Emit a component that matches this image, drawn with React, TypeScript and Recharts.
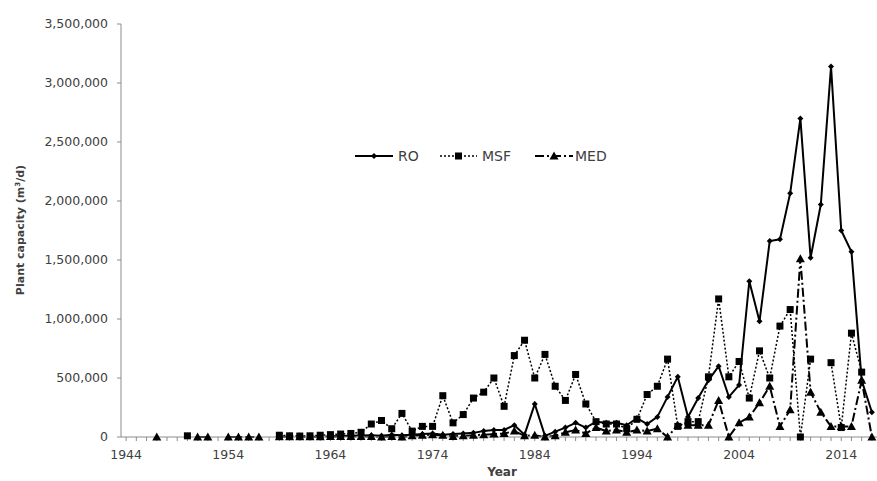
import { LineChart, Line, XAxis, YAxis, Legend, Label } from "recharts";

// categories: one per year, axis labels every ten years
const years = [
  1944, 1945, 1946, 1947, 1948, 1949, 1950, 1951, 1952, 1953,
  1954, 1955, 1956, 1957, 1958, 1959, 1960, 1961, 1962, 1963,
  1964, 1965, 1966, 1967, 1968, 1969, 1970, 1971, 1972, 1973,
  1974, 1975, 1976, 1977, 1978, 1979, 1980, 1981, 1982, 1983,
  1984, 1985, 1986, 1987, 1988, 1989, 1990, 1991, 1992, 1993,
  1994, 1995, 1996, 1997, 1998, 1999, 2000, 2001, 2002, 2003,
  2004, 2005, 2006, 2007, 2008, 2009, 2010, 2011, 2012, 2013,
  2014, 2015, 2016, 2017,
];
const labelYears = [1944, 1954, 1964, 1974, 1984, 1994, 2004, 2014];
const yTicks = [0, 500000, 1000000, 1500000, 2000000, 2500000, 3000000, 3500000];

// plant capacity (m3/d); null = no plants that year
const roCapacity = [
  null, null, null, null, null, null, null, null, null, null,
  null, null, null, null, null, null, null, null, null, null,
  5000, 8000, 10000, 12000, 15000, 10000, 20000, 15000, 20000, 25000,
  30000, 20000, 25000, 30000, 35000, 50000, 60000, 60000, 100000, 20000,
  280000, 10000, 45000, 80000, 120000, 80000, 130000, 120000, 120000, 100000,
  160000, 110000, 170000, 340000, 510000, 170000, 330000, 480000, 600000, 340000,
  440000, 1320000, 980000, 1660000, 1675000, 2065000, 2700000, 1520000, 1970000, 3140000,
  1750000, 1570000, 480000, 210000,
];
const msfCapacity = [
  null, null, null, null, null, null, 10000, null, null, null,
  null, null, null, null, null, 15000, 10000, 8000, 10000, 15000,
  20000, 25000, 30000, 40000, 110000, 140000, 70000, 200000, 50000, 90000,
  90000, 350000, 120000, 190000, 330000, 380000, 500000, 260000, 690000, 820000,
  500000, 700000, 430000, 310000, 530000, 280000, 130000, 110000, 110000, 70000,
  150000, 360000, 430000, 660000, 90000, 130000, 130000, 510000, 1170000, 510000,
  640000, 330000, 730000, 500000, 940000, 1080000, 0, 660000, null, 630000,
  80000, 880000, 550000, null,
];
const medCapacity = [
  null, null, null, 0, null, null, null, 0, 0, null,
  0, 0, 0, 0, null, 3000, 2000, 2000, 3000, 3000,
  5000, 5000, 5000, 5000, 5000, 0, 5000, 0, 10000, 15000,
  20000, 15000, 5000, 10000, 15000, 20000, 25000, 30000, 50000, 10000,
  15000, 0, 10000, 40000, 60000, 30000, 80000, 50000, 60000, 40000,
  60000, 50000, 70000, 0, 100000, 100000, 100000, 100000, 310000, 0,
  120000, 170000, 290000, 430000, 90000, 230000, 1510000, 380000, 210000, 90000,
  90000, 90000, 480000, 0,
];

const data = years.map((year, i) => ({
  year,
  RO: roCapacity[i],
  MSF: msfCapacity[i],
  MED: medCapacity[i],
}));

const FONT = '"DejaVu Sans", sans-serif';
const TEXT = "#404040";
const AXIS = "#8c8c8c";

const series = [
  { key: "RO", shape: "diamond", dash: undefined, width: 2 },
  { key: "MSF", shape: "square", dash: "2 2", width: 1.5 },
  { key: "MED", shape: "triangle", dash: "9 3 2 3", width: 2 },
];

function marker(shape: string, cx: number, cy: number, key?: string) {
  if (cx == null || cy == null || isNaN(cx) || isNaN(cy)) return <g key={key} />;
  if (shape === "diamond")
    return <path key={key} d={`M${cx},${cy - 3}L${cx + 3},${cy}L${cx},${cy + 3}L${cx - 3},${cy}Z`} fill="#000" />;
  if (shape === "square")
    return <rect key={key} x={cx - 3.5} y={cy - 3.5} width={7} height={7} fill="#000" />;
  return <path key={key} d={`M${cx},${cy - 4.5}L${cx + 4.5},${cy + 3.5}L${cx - 4.5},${cy + 3.5}Z`} fill="#000" />;
}

// legend sample positions (relative to the legend box)
const legendPos = [
  { line: [3, 41], text: 46 },
  { line: [88, 125], text: 130 },
  { line: [183, 221], text: 223 },
];

const LegendContent = () => (
  <svg width={270} height={22}>
    {series.map((s, i) => {
      const p = legendPos[i];
      const mid = (p.line[0] + p.line[1]) / 2;
      return (
        <g key={s.key}>
          <line x1={p.line[0]} x2={p.line[1]} y1={11} y2={11} stroke="#000" strokeWidth={s.width} strokeDasharray={s.dash} />
          {marker(s.shape, mid, 11)}
          <text x={p.text} y={16} fontFamily={FONT} fontSize={14} fill={TEXT}>{s.key}</text>
        </g>
      );
    })}
  </svg>
);

export default function App() {
  return (
    <div style={{ position: "absolute", left: 0, top: 0, background: "#fff" }}>
      <LineChart width={877} height={481} data={data} margin={{ top: 24, right: 0, left: 0, bottom: 0 }}>
        <XAxis
          type="number"
          dataKey="year"
          domain={[1943.5, 2017.5]}
          ticks={years}
          interval={0}
          allowDataOverflow
          height={44}
          stroke={AXIS}
          tickSize={4}
          tickMargin={9}
          tick={{ fill: TEXT, fontSize: 12.5, fontFamily: FONT }}
          tickFormatter={(v: number) => (labelYears.includes(v) ? String(v) : "")}
        >
          <Label
            content={() => (
              <text x={502} y={476} textAnchor="middle" fontFamily={FONT} fontWeight="bold" fontSize={12} fill={TEXT}>
                Year
              </text>
            )}
          />
        </XAxis>
        <YAxis
          width={121}
          domain={[0, 3500000]}
          ticks={yTicks}
          interval={0}
          stroke={AXIS}
          tickSize={4}
          tickMargin={9}
          tick={{ fill: TEXT, fontSize: 12.5, fontFamily: FONT }}
          tickFormatter={(v: number) => v.toLocaleString("en-US")}
        >
          <Label
            content={() => (
              <text transform="translate(24,230) rotate(-90)" textAnchor="middle" fontFamily={FONT} fontWeight="bold" fontSize={11} fill={TEXT}>
                Plant capacity (m<tspan dy={-4} fontSize={7}>3</tspan><tspan dy={4}>/d)</tspan>
              </text>
            )}
          />
        </YAxis>
        <Legend
          verticalAlign="middle"
          align="center"
          wrapperStyle={{ left: 352, top: 145, width: 270, height: 22 }}
          content={LegendContent}
        />
        {series.map((s) => (
          <Line
            key={s.key}
            dataKey={s.key}
            name={s.key}
            type="linear"
            stroke="#000"
            strokeWidth={s.width}
            strokeDasharray={s.dash}
            connectNulls={false}
            isAnimationActive={false}
            dot={(p: any) => marker(s.shape, p.cx, p.cy, `${s.key}-${p.index}`)}
            activeDot={false}
          />
        ))}
      </LineChart>
    </div>
  );
}
